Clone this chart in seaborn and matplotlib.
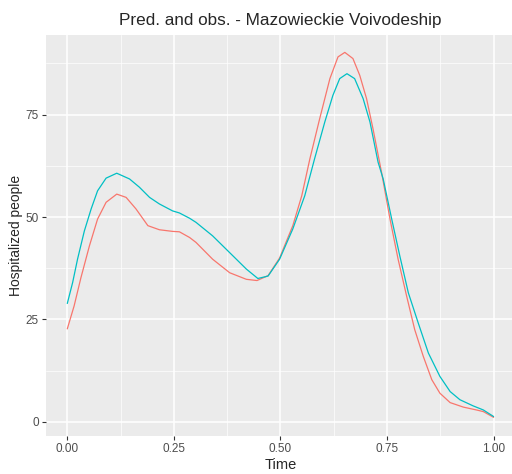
import seaborn as sns
import matplotlib.pyplot as plt
import pandas as pd

# values (points placed along each curve)
obs_time = [0.000, 0.016, 0.032, 0.052, 0.071, 0.091, 0.116, 0.138, 0.161, 0.189,
            0.216, 0.247, 0.263, 0.287, 0.302, 0.341, 0.381, 0.420, 0.445, 0.471,
            0.498, 0.529, 0.550, 0.569, 0.592, 0.616, 0.635, 0.651, 0.670, 0.686,
            0.702, 0.717, 0.737, 0.757, 0.776, 0.796, 0.815, 0.835, 0.855, 0.874,
            0.898, 0.929, 0.960, 0.976, 1.000]
observed = [22.7, 28.3, 35.2, 43.0, 49.5, 53.6, 55.6, 54.8, 52.0, 47.9,
            46.9, 46.5, 46.4, 45.0, 43.8, 39.7, 36.4, 34.8, 34.5, 35.7,
            40.0, 47.9, 55.2, 64.2, 74.0, 83.8, 89.1, 90.2, 88.7, 84.6,
            78.9, 71.6, 61.0, 49.5, 39.7, 30.7, 22.5, 16.0, 10.3, 7.0,
            4.7, 3.6, 2.9, 2.5, 1.1]

pred_time = [0.000, 0.0125, 0.024, 0.040, 0.056, 0.071, 0.091, 0.116, 0.146, 0.169,
             0.193, 0.216, 0.247, 0.263, 0.287, 0.302, 0.341, 0.381, 0.420, 0.447,
             0.471, 0.498, 0.529, 0.557, 0.580, 0.604, 0.623, 0.639, 0.656, 0.674,
             0.694, 0.710, 0.729, 0.741, 0.761, 0.780, 0.800, 0.823, 0.847, 0.874,
             0.898, 0.921, 0.952, 0.976, 1.000]
predicted = [28.9, 34.0, 39.7, 46.6, 52.0, 56.4, 59.5, 60.7, 59.3, 57.3,
             54.8, 53.2, 51.5, 51.0, 49.7, 48.7, 45.4, 41.3, 37.3, 35.0,
             35.6, 39.7, 47.1, 55.2, 64.2, 73.2, 79.7, 83.8, 85.0, 83.8,
             78.9, 73.2, 63.4, 59.3, 49.5, 40.5, 31.5, 24.2, 16.8, 11.1,
             7.4, 5.4, 3.9, 2.9, 1.3]

df = pd.DataFrame({
    'Time': obs_time + pred_time,
    'value': observed + predicted,
    'series': ['obs'] * len(obs_time) + ['pred'] * len(pred_time),
})

sns.set_theme(style='darkgrid', rc={
    'axes.facecolor': '#EBEBEB',
    'grid.color': 'white',
    'axes.edgecolor': '#EBEBEB',
})
plt.rcParams['font.family'] = ['Liberation Sans', 'DejaVu Sans']

fig = plt.figure(figsize=(5.12, 4.74), dpi=100)
ax = fig.add_axes([0.0898, 0.0802, 0.9159, 0.846])

sns.lineplot(data=df, x='Time', y='value', hue='series', sort=True,
             palette=['#F8766D', '#00BFC4'], linewidth=0.9,
             legend=False, ax=ax)

ax.set_xlim(-0.05, 1.05)
ax.set_ylim(-3.45, 94.45)
ax.set_xticks([0, 0.25, 0.5, 0.75, 1.0])
ax.set_xticklabels(['0.00', '0.25', '0.50', '0.75', '1.00'])
ax.set_yticks([0, 25, 50, 75])
ax.set_xticks([0.125, 0.375, 0.625, 0.875], minor=True)
ax.set_yticks([12.5, 37.5, 62.5, 87.5], minor=True)
ax.grid(which='major', color='white', linewidth=1.1)
ax.grid(which='minor', color='white', linewidth=0.5)
ax.tick_params(which='major', length=3, width=0.8, color='#333333',
               labelsize=8.5, labelcolor='#4D4D4D', pad=2,
               bottom=True, left=True)
ax.tick_params(which='minor', length=0)
for s in ax.spines.values():
    s.set_visible(False)

ax.set_title('Pred. and obs. - Mazowieckie Voivodeship', fontsize=12.3, pad=7)
ax.set_xlabel('Time', fontsize=10.5, labelpad=2)
ax.set_ylabel('Hospitalized people', fontsize=10, labelpad=2)

fig.savefig('out.png', dpi=100)
